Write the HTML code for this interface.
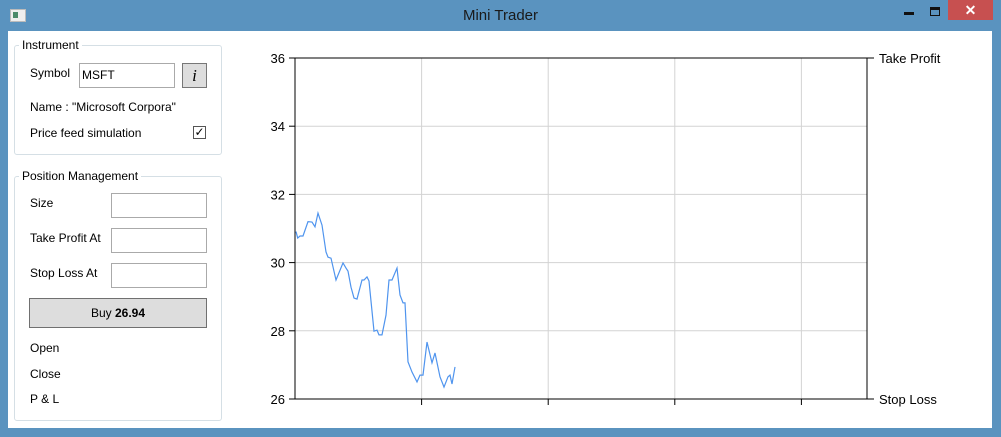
<!DOCTYPE html>
<html><head><meta charset="utf-8"><style>
body{margin:0;width:1001px;height:437px;background:#5a93bf;font-family:"Liberation Sans",sans-serif;font-size:12px;color:#000;position:relative;overflow:hidden}
.abs{position:absolute}
.content{left:8px;top:31px;width:984px;height:397px;background:#fff}
.group{border:1px solid #d5dfe5;border-radius:3px}
.legend{background:#fff;padding:0 3px;font-size:12px}
.tb{border:1px solid #aaa;background:#fff;height:23px}
</style></head><body>
<div class="abs" style="left:0;top:0;width:1001px;height:31px"></div>
<div class="abs" style="left:10px;top:9px;width:14px;height:11px;background:#eee;border:1px solid #bbb"><div style="position:absolute;left:2px;top:2px;width:5px;height:6px;background:#4a8a6a"></div></div>
<div class="abs" style="left:0;top:7px;width:1001px;text-align:center;font-size:15px;color:#1a1a1a">Mini Trader</div>
<div class="abs" style="left:904px;top:12px;width:10px;height:3px;background:#111"></div>
<div class="abs" style="left:930px;top:7px;width:8px;height:5px;border:1px solid #111;border-top-width:3px"></div>
<div class="abs" style="left:948px;top:0;width:45px;height:20px;background:#c75050;color:#fff;text-align:center;font-size:14px;font-weight:bold;line-height:20px">✕</div>
<div class="abs content"></div>

<div class="abs group" style="left:14px;top:45px;width:206px;height:108px"></div>
<div class="abs legend" style="left:19px;top:38px">Instrument</div>
<div class="abs" style="left:30px;top:66px">Symbol</div>
<div class="abs tb" style="left:79px;top:63px;width:92px;padding-left:2px;line-height:23px">MSFT</div>
<div class="abs" style="left:182px;top:63px;width:23px;height:23px;background:#ddd;border:1px solid #777;text-align:center;font-family:'Liberation Serif',serif;font-style:italic;font-size:17px;line-height:23px">i</div>
<div class="abs" style="left:30px;top:100px">Name : "Microsoft Corpora"</div>
<div class="abs" style="left:30px;top:126px">Price feed simulation</div>
<div class="abs" style="left:193px;top:126px;width:11px;height:11px;border:1px solid #555;font-size:12px;line-height:11px;text-align:center">✓</div>

<div class="abs group" style="left:14px;top:176px;width:206px;height:243px"></div>
<div class="abs legend" style="left:19px;top:169px">Position Management</div>
<div class="abs" style="left:30px;top:196px">Size</div>
<div class="abs tb" style="left:111px;top:193px;width:94px"></div>
<div class="abs" style="left:30px;top:231px">Take Profit At</div>
<div class="abs tb" style="left:111px;top:228px;width:94px"></div>
<div class="abs" style="left:30px;top:266px">Stop Loss At</div>
<div class="abs tb" style="left:111px;top:263px;width:94px"></div>
<div class="abs" style="left:29px;top:298px;width:176px;height:28px;background:#ddd;border:1px solid #707070;text-align:center;line-height:28px">Buy <b>26.94</b></div>
<div class="abs" style="left:30px;top:341px">Open</div>
<div class="abs" style="left:30px;top:367px">Close</div>
<div class="abs" style="left:30px;top:392px">P &amp; L</div>

<svg class="abs" style="left:0;top:0" width="1001" height="437" id="chart"></svg>
<script>
const yTicks=[26,28,30,32,34,36];
const xGrid=[126.6,253.2,379.8,506.4];
const times=[1,2.7,5,8,13,17,20,23,27,31,33,36,41,48,51,53,56,59,62,67,69,72,74,79,82,84,87,91,94,97,102,105,108,110,113,117,122,125,128,132,137,140,145,149,153,155,157,160];
const prices=[30.91,30.72,30.78,30.78,31.2,31.19,31.05,31.45,31.1,30.31,30.16,30.13,29.49,29.99,29.84,29.75,29.28,28.96,28.93,29.49,29.49,29.58,29.46,27.99,28.02,27.88,27.88,28.46,29.49,29.49,29.84,29.05,28.82,28.82,27.09,26.79,26.5,26.7,26.7,27.67,27.06,27.35,26.65,26.35,26.65,26.7,26.44,26.94];
const L=295,R=867,T=58,B=399,ymin=26,ymax=36,xmax=572;
const sx=t=>L+t/xmax*(R-L), sy=v=>B-(v-ymin)/(ymax-ymin)*(B-T);
const svg=document.getElementById('chart'),NS='http://www.w3.org/2000/svg';
function mk(tag,a){const e=document.createElementNS(NS,tag);for(const k in a)e.setAttribute(k,a[k]);svg.appendChild(e);return e;}
yTicks.forEach(v=>{const g=mk('line',{x1:L,x2:R,y1:sy(v),y2:sy(v),stroke:'#d3d3d3'});


const tk=mk('line',{x1:L-6,x2:L,y1:sy(v),y2:sy(v),stroke:'#000'});


const t=mk('text',{x:L-10,y:sy(v)+5,'text-anchor':'end','font-size':'13','font-family':'Liberation Sans, sans-serif'});t.textContent=v;

});
xGrid.forEach(x=>{const g=mk('line',{x1:sx(x),x2:sx(x),y1:T,y2:B,stroke:'#d3d3d3'});


const tk=mk('line',{x1:sx(x),x2:sx(x),y1:B,y2:B+6,stroke:'#000'});

});
const ax=mk('path',{d:`M${L},${T}V${B}H${R}V${T}H${L}`,fill:'none',stroke:'#000'});


[[36,'Take Profit','take-profit-label'],[26,'Stop Loss','stop-loss-axis-label']].forEach(([v,s,n])=>{
const tk=mk('line',{x1:R,x2:R+7,y1:sy(v),y2:sy(v),stroke:'#000'});


const t=mk('text',{x:R+12,y:sy(v)+5,'font-size':'13','font-family':'Liberation Sans, sans-serif'});t.textContent=s;

});
const p=mk('polyline',{points:times.map((t,i)=>sx(t)+','+sy(prices[i])).join(' '),fill:'none',stroke:'#4f94ee','stroke-width':'1.2'});


</script>
</body></html>
